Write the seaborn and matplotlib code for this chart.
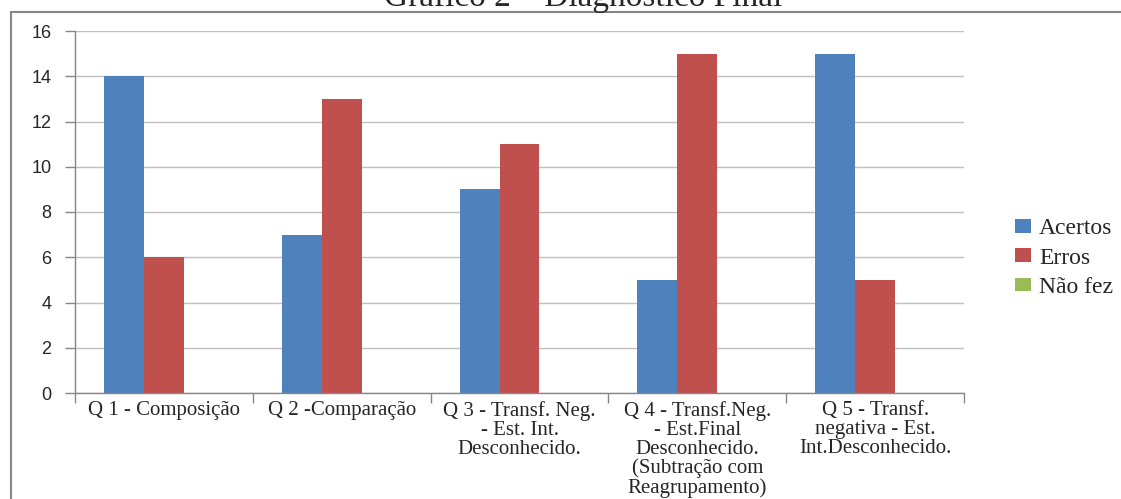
import pandas as pd
import seaborn as sns
from matplotlib import pyplot as plt
from matplotlib.lines import Line2D

questoes = [
    "Q 1 - Composição",
    "Q 2 -Comparação",
    "Q 3 - Transf. Neg.\n- Est. Int.\nDesconhecido.",
    "Q 4 - Transf.Neg.\n- Est.Final\nDesconhecido.\n(Subtração com\nReagrupamento)",
    "Q 5 - Transf.\nnegativa - Est.\nInt.Desconhecido.",
]
series = ["Acertos", "Erros", "Não fez"]
acertos = [14, 7, 9, 5, 15]
erros = [6, 13, 11, 15, 5]
nao_fez = [0, 0, 0, 0, 0]
cores = ["#4F81BD", "#C0504D", "#9BBB59"]

df = pd.DataFrame({
    "questao": questoes * 3,
    "serie": [s for s in series for _ in questoes],
    "valor": acertos + erros + nao_fez,
})

sns.set_style("white")
fig = plt.figure(figsize=(11.21, 4.99), dpi=100)
ax = fig.add_axes([75 / 1121, 1 - 393 / 499, (964 - 75) / 1121, (393 - 31) / 499])

sns.barplot(data=df, x="questao", y="valor", hue="serie", hue_order=series,
            order=questoes, palette=cores, width=0.674, saturation=1,
            edgecolor="none", linewidth=0, ax=ax)

ax.set_ylim(0, 16)
ax.set_yticks(range(0, 17, 2))
ax.set_xlim(-0.5, 4.5)
ax.set_xlabel("")
ax.set_ylabel("")
ax.yaxis.grid(True, color="#BFBFBF", linewidth=1)
ax.set_axisbelow(True)
for s in ["top", "right"]:
    ax.spines[s].set_visible(False)
for s in ["left", "bottom"]:
    ax.spines[s].set_color("#868686")
    ax.spines[s].set_linewidth(1)

ax.tick_params(axis="y", length=7, color="#868686", width=1, left=True,
               labelsize=13, pad=10)
for lab in ax.get_yticklabels():
    lab.set_family("Liberation Sans")

ax.set_xticks([i - 0.5 for i in range(6)], minor=True)
ax.tick_params(axis="x", which="minor", length=7, color="#868686", width=1, bottom=True)
ax.tick_params(axis="x", which="major", length=0, pad=6)
ax.set_xticklabels(questoes, fontsize=15, family="Liberation Serif",
                   linespacing=0.98, ha="center", va="top")

handles, labels = ax.get_legend_handles_labels()
ax.legend(handles, labels, loc="center left", bbox_to_anchor=(994 / 1121, 1 - 258 / 499),
          bbox_transform=fig.transFigure, frameon=False,
          prop={"family": "Liberation Serif", "size": 17},
          handlelength=0.65, handleheight=0.5, handletextpad=0.35, labelspacing=0.35)

fig.text(0.52, 1 - 6 / 499, "Gráfico 2 – Diagnóstico Final", ha="center", va="baseline",
         family="Liberation Serif", fontsize=24)

fig.add_artist(Line2D([11 / 1121, 1], [1 - 12 / 499, 1 - 12 / 499],
                      transform=fig.transFigure, color="#868686", linewidth=1.5))
fig.add_artist(Line2D([11 / 1121, 11 / 1121], [0, 1 - 12 / 499],
                      transform=fig.transFigure, color="#868686", linewidth=1.5))

fig.savefig("out.png", dpi=100)
